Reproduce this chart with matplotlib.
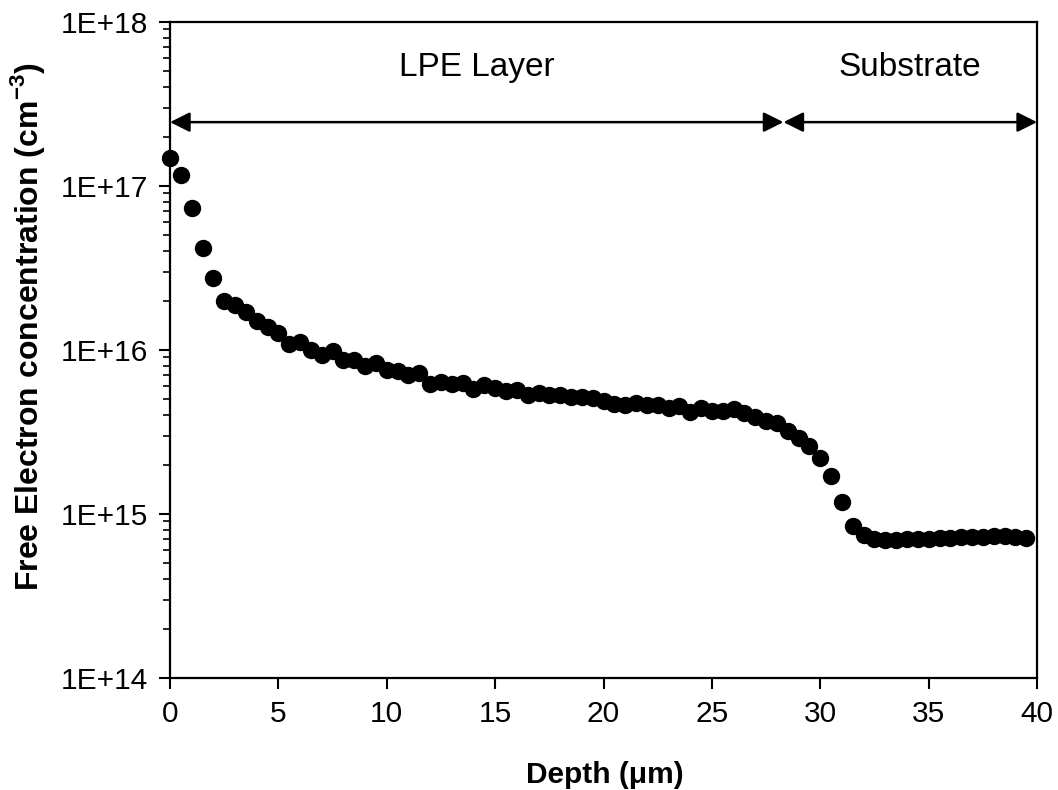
import matplotlib
matplotlib.use("Agg")
import matplotlib.pyplot as plt
from matplotlib.ticker import LogLocator, FixedLocator

plt.rcParams['font.family'] = ['Liberation Sans', 'DejaVu Sans']
plt.rcParams['mathtext.fontset'] = 'custom'
plt.rcParams['mathtext.rm'] = 'Liberation Sans'
plt.rcParams['mathtext.bf'] = 'Liberation Sans:bold'

# depth profile sampled every 0.5 um
depth_step = 0.5
concentration = [
    1.49e17, 1.16e17, 7.3e16, 4.2e16, 2.75e16, 2.0e16, 1.88e16, 1.7e16,
    1.5e16, 1.38e16, 1.27e16, 1.09e16, 1.12e16, 1.0e16, 9.3e15, 9.9e15,
    8.7e15, 8.7e15, 8.0e15, 8.3e15, 7.6e15, 7.4e15, 7.0e15, 7.2e15,
    6.2e15, 6.4e15, 6.2e15, 6.3e15, 5.8e15, 6.1e15, 5.9e15, 5.6e15,
    5.7e15, 5.3e15, 5.5e15, 5.3e15, 5.3e15, 5.2e15, 5.2e15, 5.1e15,
    4.9e15, 4.7e15, 4.6e15, 4.75e15, 4.6e15, 4.65e15, 4.4e15, 4.55e15,
    4.2e15, 4.4e15, 4.25e15, 4.25e15, 4.35e15, 4.1e15, 3.9e15, 3.7e15,
    3.6e15, 3.2e15, 2.9e15, 2.6e15, 2.2e15, 1.71e15, 1.19e15, 8.5e14,
    7.4e14, 7.0e14, 6.9e14, 6.9e14, 7.0e14, 7.0e14, 7.0e14, 7.1e14,
    7.1e14, 7.2e14, 7.2e14, 7.2e14, 7.3e14, 7.3e14, 7.2e14, 7.1e14,
]
depth = [i * depth_step for i in range(len(concentration))]

x_ticks = [0, 5, 10, 15, 20, 25, 30, 35, 40]
y_ticks = [1e14, 1e15, 1e16, 1e17, 1e18]
y_tick_labels = ["1E+14", "1E+15", "1E+16", "1E+17", "1E+18"]

# region markers: (label, start, end)
regions = [("LPE Layer", 0, 28.3), ("Substrate", 28.3, 40)]
arrow_level = 2.45e17
label_level = 5.25e17

fig = plt.figure(figsize=(10.58, 7.90), dpi=100)
ax = fig.add_axes([0.1607, 0.1418, 0.8195, 0.8304])

ax.plot(depth, concentration, 'o', color='black', markersize=11.5, clip_on=False)

ax.set_yscale('log')
ax.set_xlim(0, 40)
ax.set_ylim(1e14, 1e18)

ax.xaxis.set_major_locator(FixedLocator(x_ticks))
ax.set_xticklabels([str(t) for t in x_ticks])
ax.yaxis.set_major_locator(FixedLocator(y_ticks))
ax.set_yticklabels(y_tick_labels)
ax.yaxis.set_minor_locator(LogLocator(base=10, subs=range(2, 10)))
ax.yaxis.set_minor_formatter(plt.NullFormatter())

ax.tick_params(axis='both', which='major', direction='out', length=8, width=1.5,
               labelsize=21.5, pad=8)
ax.tick_params(axis='y', which='minor', direction='out', length=5, width=1.2)
for s in ax.spines.values():
    s.set_linewidth(1.6)

for name, x0, x1 in regions:
    ax.annotate('', xy=(x0, arrow_level), xytext=(x1, arrow_level),
                arrowprops=dict(arrowstyle='<|-|>', color='black', lw=1.8,
                                mutation_scale=30, shrinkA=0, shrinkB=0))
    ax.text((x0 + x1) / 2, label_level, name, ha='center', va='center', fontsize=24)

ax.set_xlabel("Depth (\u03bcm)", fontsize=21.5, fontweight='bold', va='center')
ax.xaxis.set_label_coords(0.502, -0.148)
ax.set_ylabel("Free Electron concentration (cm$^{\\mathbf{-3}}$)", fontsize=23,
              fontweight='bold', va='center')
ax.yaxis.set_label_coords(-0.164, 0.535)

fig.savefig("out.png", dpi=100)
